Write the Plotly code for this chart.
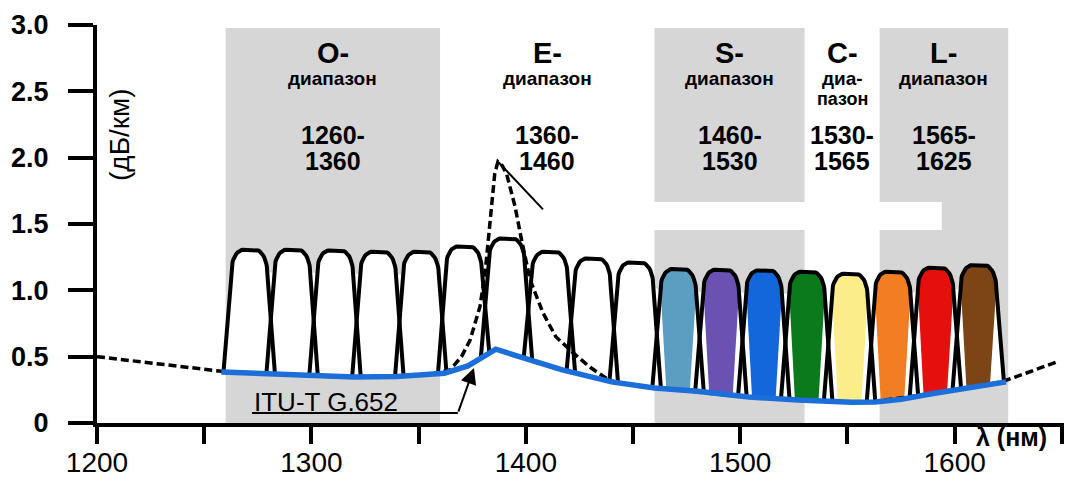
import numpy as np
import plotly.graph_objects as go

# ---------------- data ----------------
x_tick_vals = [1200, 1300, 1400, 1500, 1600]
y_tick_vals = [0, 0.5, 1.0, 1.5, 2.0, 2.5, 3.0]
y_tick_text = ["0", "0.5", "1.0", "1.5", "2.0", "2.5", "3.0"]

band_letters = ["O-", "E-", "S-", "C-", "L-"]
band_start = [1260, 1360, 1460, 1530, 1565]
band_end = [1360, 1460, 1530, 1565, 1625]
band_shaded = [True, False, True, False, True]
band_word1 = ["диапазон", "диапазон", "диапазон", "диа-", "диапазон"]
band_word2 = ["", "", "", "пазон", ""]
band_range1 = ["1260-", "1360-", "1460-", "1530-", "1565-"]
band_range2 = ["1360", "1460", "1530", "1565", "1625"]

channel_centers = [1271, 1291, 1311, 1331, 1351, 1371, 1391, 1411, 1431,
                   1451, 1471, 1491, 1511, 1531, 1551, 1571, 1591, 1611]
channel_heights = [1.305, 1.305, 1.30, 1.29, 1.29, 1.33, 1.39, 1.29, 1.24,
                   1.21, 1.16, 1.155, 1.15, 1.14, 1.125, 1.14, 1.17, 1.19]
channel_colors = ["white"] * 10 + ["#5B9EC2", "#6A52B2", "#1467DA", "#0A7A1C",
                                   "#FBEE8A", "#F27D22", "#E5100E", "#7B4516"]

# ITU-T G.652 attenuation (blue)
itu_wl = [1258, 1280, 1300, 1320, 1340, 1355, 1362, 1373, 1386, 1400, 1417,
          1440, 1460, 1480, 1504, 1527, 1540, 1552, 1563, 1575, 1590, 1605, 1624]
itu_att = [0.385, 0.37, 0.355, 0.347, 0.35, 0.36, 0.375, 0.43, 0.556, 0.485, 0.40,
           0.31, 0.264, 0.24, 0.196, 0.173, 0.163, 0.157, 0.158, 0.178, 0.222, 0.262, 0.31]

# older fibre with water peak (dashed)
fiber_wl = [1200, 1230, 1258, 1280, 1300, 1320, 1340, 1355, 1364.6, 1370, 1374,
            1378.6, 1381, 1382.5, 1384, 1385.5, 1387, 1389, 1391, 1395, 1398,
            1402, 1408, 1414, 1422, 1430, 1439, 1450, 1470, 1500, 1540, 1560,
            1590, 1605, 1622, 1633.5, 1647.5]
fiber_att = [0.50, 0.445, 0.39, 0.37, 0.355, 0.347, 0.35, 0.365, 0.40, 0.50, 0.625,
             0.877, 1.13, 1.38, 1.63, 1.88, 1.97, 1.94, 1.88, 1.63, 1.38,
             1.08, 0.83, 0.65, 0.53, 0.42, 0.32, 0.285, 0.25, 0.20, 0.163, 0.157,
             0.222, 0.262, 0.31, 0.377, 0.46]

# ---------------- geometry helpers ----------------
HB = 12.0   # half width of channel at base (nm)
HT = 8.4    # half width at shoulder (nm)
HF = 5.5    # half width of coloured fill at base
RX = 5.5    # corner radius (nm)
RY = 0.17   # corner radius (dB/km)


def base_at(x):
    return float(np.interp(x, itu_wl, itu_att))


def arch(c, h, n=14):
    xs, ys = [], []
    cx, cy = c - HT + RX, h - RY
    for t in np.linspace(np.pi, np.pi / 2, n):
        xs.append(cx + RX * np.cos(t)); ys.append(cy + RY * np.sin(t))
    cx = c + HT - RX
    for t in np.linspace(np.pi / 2, 0, n):
        xs.append(cx + RX * np.cos(t)); ys.append(cy + RY * np.sin(t))
    return xs, ys


def bottom_path(x_from, x_to, n=6):
    xs = list(np.linspace(x_from, x_to, n))
    return xs, [base_at(v) for v in xs]


fig = go.Figure()

# white envelope behind all channels
ex, ey = [channel_centers[0] - HB], [base_at(channel_centers[0] - HB)]
for c, h in zip(channel_centers, channel_heights):
    ax_, ay_ = arch(c, h)
    ex += ax_; ey += ay_
ex.append(channel_centers[-1] + HB); ey.append(base_at(channel_centers[-1] + HB))
bx, by = bottom_path(channel_centers[-1] + HB, channel_centers[0] - HB, 80)
ex += bx; ey += by
fig.add_trace(go.Scatter(x=ex, y=ey, fill="toself", fillcolor="white",
                         line=dict(width=0), mode="lines", hoverinfo="skip"))

# coloured fills
for c, h, col in zip(channel_centers, channel_heights, channel_colors):
    if col == "white":
        continue
    ax_, ay_ = arch(c, h)
    xs = [c - HF] + ax_ + [c + HF]
    ys = [base_at(c - HF)] + ay_ + [base_at(c + HF)]
    bx, by = bottom_path(c + HF, c - HF)
    xs += bx; ys += by
    fig.add_trace(go.Scatter(x=xs, y=ys, fill="toself", fillcolor=col,
                             line=dict(width=0), mode="lines", hoverinfo="skip"))

# channel outlines
for c, h in zip(channel_centers, channel_heights):
    ax_, ay_ = arch(c, h)
    xs = [c - HB] + ax_ + [c + HB]
    ys = [base_at(c - HB)] + ay_ + [base_at(c + HB)]
    fig.add_trace(go.Scatter(x=xs, y=ys, mode="lines",
                             line=dict(color="black", width=4), hoverinfo="skip"))

# dashed fibre curve
fig.add_trace(go.Scatter(x=fiber_wl, y=fiber_att, mode="lines",
                         line=dict(color="black", width=3.5, dash="8px,4px"),
                         hoverinfo="skip"))
# ITU-T blue curve
fig.add_trace(go.Scatter(x=itu_wl, y=itu_att, mode="lines",
                         line=dict(color="#1C6FD8", width=5.5), hoverinfo="skip"))

# leader line from water peak
peak_i = int(np.argmax(fiber_att))
fig.add_trace(go.Scatter(x=[fiber_wl[peak_i], 1408], y=[fiber_att[peak_i], 1.61],
                         mode="lines", line=dict(color="black", width=2),
                         hoverinfo="skip"))
# ITU label underline
fig.add_trace(go.Scatter(x=[1272.3, 1368.3], y=[0.075, 0.075], mode="lines",
                         line=dict(color="black", width=2), hoverinfo="skip"))

# ---------------- shapes ----------------
shapes = []
for s, e, sh in zip(band_start, band_end, band_shaded):
    if sh:
        shapes.append(dict(type="rect", xref="x", yref="y", x0=s, x1=e, y0=0, y1=2.977,
                           fillcolor="#D6D6D6", line=dict(width=0), layer="below"))
shapes.append(dict(type="rect", xref="x", yref="y", x0=1408, x1=1594, y0=1.455, y1=1.666,
                   fillcolor="white", line=dict(width=0), layer="below"))

# ---------------- annotations ----------------
F = "Arial, Liberation Sans, sans-serif"
ann = []
for L, w1, w2, r1, r2, s, e in zip(band_letters, band_word1, band_word2,
                                  band_range1, band_range2, band_start, band_end):
    xc = (s + e) / 2
    ann.append(dict(x=xc, y=2.79, text=f"<b>{L}</b>", showarrow=False,
                    font=dict(family=F, size=29, color="black")))
    ann.append(dict(x=xc, y=2.595, text=f"<b>{w1}</b>", showarrow=False,
                    font=dict(family=F, size=19, color="black")))
    if w2:
        ann.append(dict(x=xc, y=2.44, text=f"<b>{w2}</b>", showarrow=False,
                        font=dict(family=F, size=18, color="black")))
    ann.append(dict(x=xc, y=2.17, text=f"<b>{r1}</b>", showarrow=False,
                    font=dict(family=F, size=25, color="black")))
    ann.append(dict(x=xc, y=1.972, text=f"<b>{r2}</b>", showarrow=False,
                    font=dict(family=F, size=25, color="black")))

ann.append(dict(x=1272.5, y=0.16, text="ITU-T G.652", showarrow=False, xanchor="left",
                font=dict(family=F, size=26, color="black")))
ann.append(dict(x=1375.8, y=0.415, ax=1368.3, ay=0.075, axref="x", ayref="y",
                xref="x", yref="y", text="", showarrow=True, arrowhead=2,
                arrowsize=1.6, arrowwidth=2, arrowcolor="black"))
ann.append(dict(xref="paper", yref="paper", x=(1011 - 97) / 967, y=(423 - 437) / 398,
                xanchor="center", yanchor="middle", text="<b>λ (нм)</b>",
                showarrow=False, font=dict(family=F, size=25, color="black")))
ann.append(dict(xref="paper", yref="paper", x=(119 - 97) / 967, y=(423 - 135) / 398,
                xanchor="center", yanchor="middle",
                text="(дБ/км)", textangle=-90, showarrow=False,
                font=dict(family=F, size=28, color="black")))

fig.update_layout(
    width=1068, height=480,
    margin=dict(l=97, r=4, t=25, b=57),
    paper_bgcolor="white", plot_bgcolor="white",
    showlegend=False, shapes=shapes, annotations=ann,
    xaxis=dict(range=[1200, 1651], tickmode="array", tickvals=x_tick_vals,
               ticks="outside", ticklen=17, tickwidth=4, tickcolor="black",
               showline=True, linewidth=4, linecolor="black", showgrid=False,
               zeroline=False, ticklabelstandoff=-6, automargin=False,
               tickfont=dict(family=F, size=28, color="black"),
               minor=dict(tickvals=[1250, 1350, 1450, 1550, 1650], ticks="outside",
                          ticklen=17, tickwidth=4, tickcolor="black", showgrid=False)),
    yaxis=dict(range=[0, 3], tickmode="array", tickvals=y_tick_vals, ticktext=y_tick_text,
               ticks="outside", ticklen=25, tickwidth=4, tickcolor="black",
               showline=True, linewidth=4, linecolor="black", showgrid=False,
               zeroline=False, ticklabelstandoff=14, automargin=False,
               tickfont=dict(family=F, size=27, color="black", weight="bold")),
)

fig.write_html("out.html", config={"displayModeBar": False},
               post_script="document.body.style.margin='0';"
                           "document.body.style.overflow='hidden';")
